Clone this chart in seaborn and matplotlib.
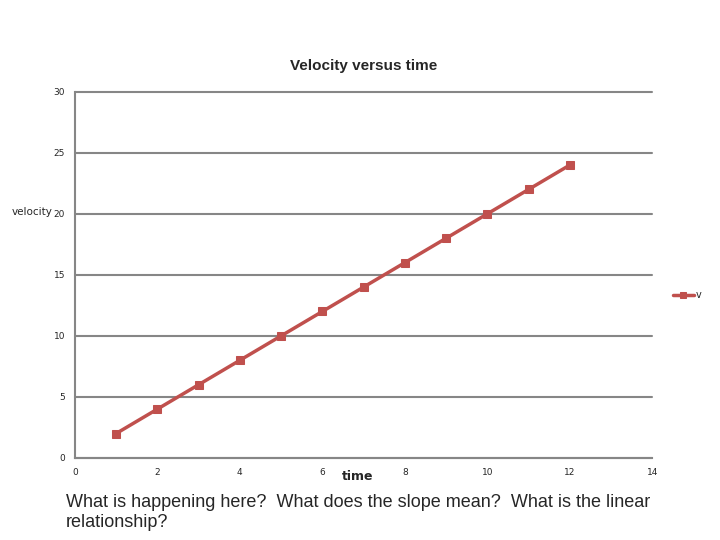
import pandas as pd
import seaborn as sns
import matplotlib.pyplot as plt

time = [1, 2, 3, 4, 5, 6, 7, 8, 9, 10, 11, 12]
velocity = [2, 4, 6, 8, 10, 12, 14, 16, 18, 20, 22, 24]
x_ticks = [0, 2, 4, 6, 8, 10, 12, 14]
y_ticks = [0, 5, 10, 15, 20, 25, 30]

df = pd.DataFrame({'time': time, 'v': velocity})

sns.set_style('white')
plt.rcParams['font.family'] = ['DejaVu Sans']

fig = plt.figure(figsize=(7.2, 5.4), dpi=100)
ax = fig.add_axes([0.104, 0.152, 0.802, 0.678])

sns.lineplot(x='time', y='v', data=df, ax=ax, color='#C0504D', marker='s',
             markersize=6, markeredgecolor='#C0504D', linewidth=2.5, label='v')

ax.set_xlim(0, 14)
ax.set_ylim(0, 30)
ax.set_xticks(x_ticks)
ax.set_yticks(y_ticks)
ax.tick_params(axis='both', labelsize=6.5, length=3, color='#868686', pad=4)
ax.yaxis.grid(True, color='#868686', linewidth=1.5)
for gl in ax.get_ygridlines():
    gl.set_clip_on(False)
ax.set_axisbelow(True)
for s in ['top', 'right']:
    ax.spines[s].set_visible(False)
for s in ['left', 'bottom']:
    ax.spines[s].set_color('#868686')
    ax.spines[s].set_linewidth(1.5)

ax.set_title('Velocity versus time', fontsize=11, fontweight='semibold', pad=16,
             family='Liberation Sans')
ax.set_xlabel('time', fontsize=9, fontweight='bold')
ax.set_ylabel('velocity', fontsize=7.5, rotation=0, ha='right', va='center')
ax.yaxis.set_label_coords(-0.038, 0.672)
ax.xaxis.set_label_coords(0.49, -0.033)

ax.legend(loc='center left', bbox_to_anchor=(1.02, 0.445), frameon=False,
          fontsize=7, handlelength=2.2, handletextpad=0.2, markerscale=0.7)

fig.text(0.092, 0.085, 'What is happening here?  What does the slope mean?  What is the linear\nrelationship?',
         fontsize=13, family='Liberation Sans', va='top', ha='left', linespacing=1.25)

fig.savefig('out.png', dpi=100)
